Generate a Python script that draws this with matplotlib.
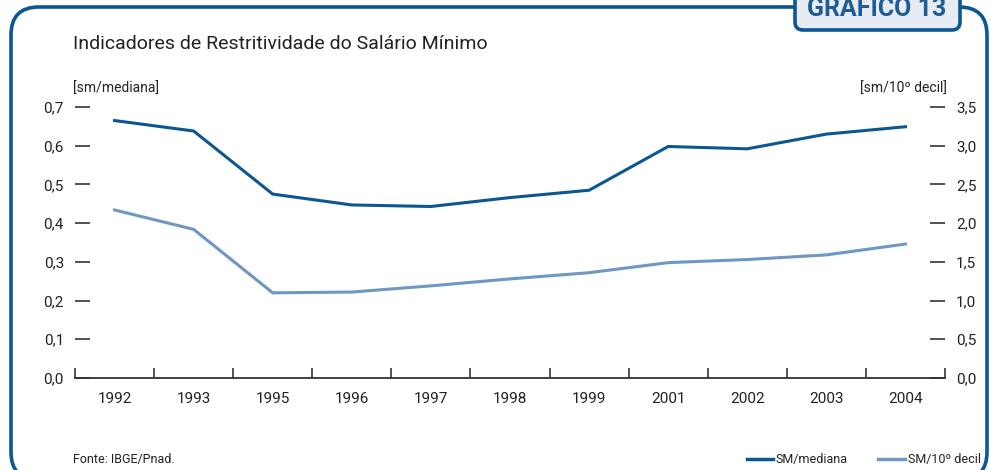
import matplotlib
matplotlib.use("Agg")
import matplotlib.pyplot as plt
from matplotlib.patches import FancyBboxPatch
from matplotlib.lines import Line2D
from matplotlib import font_manager
from matplotlib.ticker import FixedLocator, FuncFormatter

years = ["1992", "1993", "1995", "1996", "1997", "1998", "1999", "2001", "2002", "2003", "2004"]
sm_mediana = [0.665, 0.638, 0.475, 0.447, 0.443, 0.466, 0.485, 0.598, 0.592, 0.630, 0.649]
sm_decil = [2.17, 1.92, 1.10, 1.11, 1.19, 1.28, 1.36, 1.49, 1.53, 1.59, 1.73]
left_ticks = [0.0, 0.1, 0.2, 0.3, 0.4, 0.5, 0.6, 0.7]
right_ticks = [0.0, 0.5, 1.0, 1.5, 2.0, 2.5, 3.0, 3.5]

names = {f.name for f in font_manager.fontManager.ttflist}
FONT = "Liberation Sans Narrow" if "Liberation Sans Narrow" in names else "Roboto"
plt.rcParams["font.family"] = [FONT, "DejaVu Sans"]

DARK = "#0b5792"
LIGHT = "#6f97c4"
FRAME = "#0b5794"
TXT = "#222222"

fig = plt.figure(figsize=(9.91, 4.70), dpi=100)

# frame
frame = FancyBboxPatch((0.11, -0.10), 9.76, 4.73, boxstyle="round,pad=0,rounding_size=0.28",
                       transform=fig.dpi_scale_trans, facecolor="none", edgecolor=FRAME,
                       linewidth=2.6, zorder=1)
fig.add_artist(frame)
tab = FancyBboxPatch((7.95, 4.40), 1.65, 0.45, boxstyle="round,pad=0,rounding_size=0.08",
                     transform=fig.dpi_scale_trans, facecolor="#e7ecf4", edgecolor=FRAME,
                     linewidth=2.6, zorder=2)
fig.add_artist(tab)
fig.text(8.77, 4.545, "GRÁFICO 13", transform=fig.dpi_scale_trans, ha="center", va="baseline",
         fontsize=18, fontweight="semibold", color="#1d5c94", zorder=3)

ax = fig.add_axes([75 / 991, 1 - 378 / 470, 870 / 991, 271 / 470])
x = list(range(len(years)))
ax.plot(x, sm_mediana, color=DARK, lw=2.2, solid_joinstyle="miter")
ax.set_xlim(-0.5, len(years) - 0.5)
ax.set_ylim(0, 0.7)
ax.yaxis.set_major_locator(FixedLocator(left_ticks))
ax.yaxis.set_major_formatter(FuncFormatter(lambda v, p: f"{v:.1f}".replace(".", ",")))
ax.set_xticks(x)
ax.set_xticklabels(years)
ax.set_xticks([i - 0.5 for i in range(len(years) + 1)], minor=True)
ax.tick_params(axis="x", which="major", length=0, pad=10, labelsize=11, labelcolor=TXT)
ax.tick_params(axis="x", which="minor", direction="in", length=7.5, width=1.2, color="#333333")
ax.tick_params(axis="y", which="major", direction="in", length=10.5, width=1.2, color="#333333",
               pad=8, labelsize=11, labelcolor=TXT)
for s in ["top", "right", "left"]:
    ax.spines[s].set_visible(False)
ax.spines["bottom"].set_color("#333333")
ax.spines["bottom"].set_linewidth(1.3)

ax2 = ax.twinx()
ax2.plot(x, sm_decil, color=LIGHT, lw=2.2, solid_joinstyle="miter")
ax2.set_ylim(0, 3.5)
ax2.yaxis.set_major_locator(FixedLocator(right_ticks))
ax2.yaxis.set_major_formatter(FuncFormatter(lambda v, p: f"{v:.1f}".replace(".", ",")))
ax2.tick_params(axis="y", which="major", direction="in", length=10.5, width=1.2, color="#333333",
                pad=8, labelsize=11, labelcolor=TXT)
for s in ["top", "right", "left", "bottom"]:
    ax2.spines[s].set_visible(False)

def px(xp, yp):
    return xp / 991, 1 - yp / 470

fig.text(*px(73, 44), "Indicadores de Restritividade do Salário Mínimo", ha="left", va="center",
         fontsize=14, color=TXT)
fig.text(*px(73, 89), "[sm/mediana]", ha="left", va="center", fontsize=10, color=TXT)
fig.text(*px(947, 89), "[sm/10º decil]", ha="right", va="center", fontsize=10, color=TXT)
fig.text(*px(73, 459), "Fonte: IBGE/Pnad.", ha="left", va="center", fontsize=9, color=TXT)

# legend
fig.add_artist(Line2D([747 / 991, 773 / 991], [1 - 459 / 470] * 2, color=DARK, lw=2.5,
                      transform=fig.transFigure))
fig.text(*px(776, 459), "SM/mediana", ha="left", va="center", fontsize=9, color=TXT)
fig.add_artist(Line2D([878 / 991, 905 / 991], [1 - 459 / 470] * 2, color=LIGHT, lw=2.5,
                      transform=fig.transFigure))
fig.text(*px(908, 459), "SM/10º decil", ha="left", va="center", fontsize=9, color=TXT)

fig.savefig("out.png", dpi=100)
